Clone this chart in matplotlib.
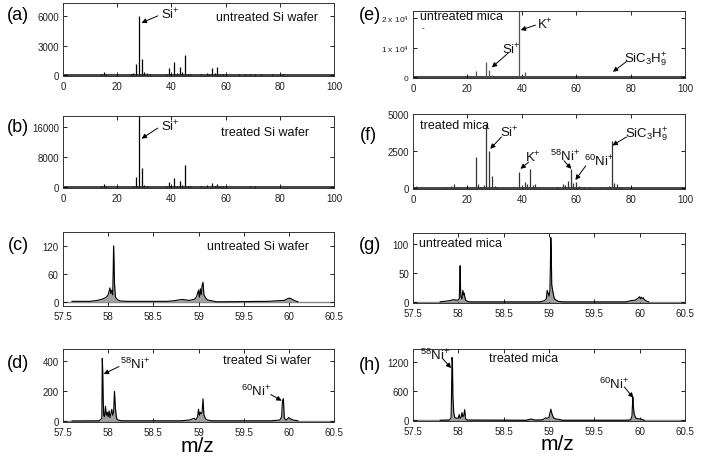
import numpy as np
import matplotlib
matplotlib.use("Agg")
import matplotlib.pyplot as plt

plt.rcParams['font.family'] = ['Liberation Sans', 'DejaVu Sans']
plt.rcParams['mathtext.fontset'] = 'custom'
plt.rcParams['mathtext.rm'] = 'Liberation Sans'
plt.rcParams['mathtext.it'] = 'Liberation Sans'

# ---- low resolution spectra (stick data), m/z 0-100 ----
a_mz = [1, 2, 12, 13, 14, 15, 16, 18, 24, 25, 26, 27, 28, 29, 30, 31, 32, 38, 39, 40,
        41, 42, 43, 44, 45, 46, 47, 50, 51, 52, 53, 54, 55, 56, 57, 58, 59, 63, 65, 67,
        69, 71, 73, 77, 79, 81, 91]
a_int = [100, 50, 60, 40, 120, 330, 80, 60, 40, 80, 220, 1100, 6000, 1600, 300, 220, 100, 120, 700, 150,
         1300, 250, 850, 300, 2000, 150, 80, 60, 150, 60, 250, 100, 700, 200, 800, 150, 100, 60, 80, 100,
         120, 150, 120, 80, 60, 80, 60]

b_mz = [1, 12, 14, 15, 16, 24, 25, 26, 27, 28, 29, 30, 31, 38, 39, 40, 41, 42, 43, 44,
        45, 46, 47, 51, 53, 55, 56, 57, 58, 59, 63, 67, 69, 71, 73, 77, 79, 81]
b_int = [200, 150, 200, 800, 200, 100, 150, 400, 2800, 19500, 5200, 700, 400, 200, 1300, 300, 2500, 400, 1600, 500,
         6000, 400, 200, 200, 600, 1100, 300, 900, 300, 200, 100, 150, 200, 200, 150, 100, 100, 100]

e_mz = [12, 14, 15, 16, 23, 24, 26, 27, 28, 29, 30, 39, 40, 41, 43, 45, 73, 74]
e_int = [100, 150, 200, 100, 2000, 150, 300, 5200, 2500, 700, 200, 23000, 300, 1800, 500, 150, 500, 100]

f_mz = [1, 12, 14, 15, 16, 23, 24, 25, 26, 27, 28, 29, 30, 31, 39, 40, 41, 42, 43, 44,
        45, 46, 53, 55, 56, 57, 58, 59, 60, 61, 63, 65, 69, 71, 72, 73, 74, 75, 76, 77]
f_int = [150, 80, 150, 250, 100, 2100, 250, 100, 200, 4300, 2500, 800, 150, 100, 1100, 120, 400, 250, 1300, 200,
         250, 100, 100, 250, 200, 500, 1300, 350, 420, 150, 80, 60, 60, 100, 150, 3200, 350, 280, 100, 60]

# ---- high resolution spectra, m/z 57.5-60.5 ----
c_mz = [57.60, 57.80, 57.88, 57.92, 57.95, 57.98, 58.00, 58.02, 58.03, 58.04,
        58.05, 58.055, 58.06, 58.065, 58.07, 58.08, 58.09, 58.10, 58.13, 58.20,
        58.65, 58.72, 58.78, 58.82, 58.90, 58.96, 58.98, 59.00, 59.01, 59.02,
        59.03, 59.04, 59.05, 59.06, 59.08, 59.10, 59.15, 59.20, 59.78, 59.85,
        59.95, 59.99, 60.01, 60.03, 60.06, 60.10]
c_int = [1, 1, 3, 5, 7, 10, 15, 30, 18, 25,
         15, 60, 120, 90, 40, 10, 8, 5, 2, 1,
         1, 2, 4, 5, 3, 6, 12, 25, 10, 28,
         15, 35, 42, 15, 8, 4, 2, 0, 1, 2,
         3, 7, 8, 6, 3, 0]

d_mz = [57.60, 57.90, 57.93, 57.935, 57.94, 57.945, 57.95, 57.96, 57.97, 57.98,
        57.99, 58.00, 58.01, 58.02, 58.03, 58.04, 58.05, 58.06, 58.07, 58.08,
        58.09, 58.10, 58.15, 58.80, 58.90, 58.95, 58.97, 58.99, 59.00, 59.01,
        59.02, 59.03, 59.04, 59.05, 59.06, 59.08, 59.10, 59.15, 59.80, 59.90,
        59.92, 59.93, 59.935, 59.94, 59.95, 59.97, 60.00, 60.02, 60.05, 60.10]
d_int = [2, 3, 20, 420, 330, 150, 40, 30, 100, 40,
         60, 30, 70, 25, 50, 80, 40, 60, 200, 90,
         30, 10, 3, 3, 8, 20, 10, 30, 80, 40,
         60, 50, 60, 150, 40, 15, 8, 3, 3, 8,
         30, 140, 130, 150, 20, 8, 25, 15, 8, 3]

g_mz = [57.80, 57.85, 57.90, 57.93, 57.95, 57.97, 57.99, 58.01, 58.015, 58.02,
        58.025, 58.03, 58.04, 58.05, 58.06, 58.065, 58.07, 58.08, 58.10, 58.12,
        58.90, 58.95, 58.97, 58.98, 58.99, 59.00, 59.01, 59.015, 59.02, 59.025,
        59.03, 59.04, 59.05, 59.06, 59.08, 59.10, 59.15, 59.85, 59.90, 59.95,
        59.98, 60.00, 60.01, 60.02, 60.03, 60.04, 60.05, 60.08, 60.10]
g_int = [0, 1, 2, 3, 4, 3, 3, 5, 30, 63,
         20, 8, 5, 20, 12, 15, 10, 3, 1, 0,
         0, 2, 5, 20, 15, 10, 20, 60, 112, 90,
         30, 20, 12, 5, 3, 1, 0, 0, 2, 3,
         6, 9, 5, 8, 6, 7, 4, 1, 0]

h_mz = [57.80, 57.90, 57.92, 57.925, 57.93, 57.935, 57.94, 57.95, 57.96, 57.98,
        58.00, 58.01, 58.02, 58.03, 58.04, 58.05, 58.06, 58.07, 58.08, 58.10,
        58.75, 58.80, 58.85, 58.93, 58.96, 58.98, 59.00, 59.02, 59.03, 59.05,
        59.08, 59.12, 59.15, 59.85, 59.90, 59.915, 59.92, 59.925, 59.93, 59.94,
        59.96, 59.98, 60.00, 60.02, 60.05]
h_int = [0, 5, 50, 550, 1300, 1250, 500, 150, 60, 40,
         50, 120, 40, 60, 160, 70, 100, 220, 30, 5,
         0, 25, 5, 10, 50, 40, 60, 230, 150, 50,
         25, 15, 0, 0, 10, 80, 300, 480, 300, 120,
         40, 30, 30, 20, 0]

hr_ticks = [57.5, 58, 58.5, 59, 59.5, 60, 60.5]
hr_labels = ['57.5', '58', '58.5', '59', '59.5', '60', '60.5']

W, H = 704, 464
fig = plt.figure(figsize=(7.04, 4.64), dpi=100)


def box(l, t, r, b):
    # pixel box -> figure fraction
    return [l / W, 1 - b / H, (r - l) / W, (b - t) / H]


def style(ax):
    ax.tick_params(direction='in', top=True, right=True, length=3, width=0.6,
                   labelsize=7, labelcolor='#222')
    ax.tick_params(axis='x', pad=3.5)
    ax.tick_params(axis='y', pad=3)
    for s in ax.spines.values():
        s.set_linewidth(0.7)
        s.set_color('#333')


def sticks(ax, mz, inten, ylim, yticks, color='k'):
    ax.axhline(0, color='#444', lw=1.4, zorder=1)
    ax.vlines(mz, 0, inten, color=color, lw=0.9, zorder=2)
    ax.set_xlim(0, 100)
    ax.set_ylim(*ylim)
    ax.set_xticks([0, 20, 40, 60, 80, 100])
    ax.set_yticks(yticks)
    style(ax)


def profile(ax, mz, inten, ylim, yticks):
    ax.axhline(0, color='#888', lw=1.0, zorder=1)
    ax.fill_between(mz, 0, inten, color='#a0a0a0', lw=0, zorder=2)
    ax.plot(mz, inten, color='k', lw=0.8, zorder=3)
    ax.set_xlim(57.5, 60.5)
    ax.set_ylim(*ylim)
    ax.set_xticks(hr_ticks)
    ax.set_xticklabels(hr_labels)
    ax.set_yticks(yticks)
    style(ax)


def arrow(ax, head, tail):
    ax.annotate('', xy=head, xytext=tail,
                arrowprops=dict(arrowstyle='-|>', color='k', lw=0.7,
                                mutation_scale=7, shrinkA=0, shrinkB=0))


def label(ax, x, y, s, ha='left', size=9.5):
    ax.text(x, y, s, ha=ha, va='center', fontsize=size, color='#111')


si = r'Si$^{+}$'
kp = r'K$^{+}$'
sich = r'SiC$_{3}$H$_{9}^{+}$'
ni58 = r'$^{58}$Ni$^{+}$'
ni60 = r'$^{60}$Ni$^{+}$'

# (a)
ax = fig.add_axes(box(63, 4, 334, 77))
sticks(ax, a_mz, a_int, (-80, 7300), [0, 3000, 6000])
label(ax, 36, 6200, si)
arrow(ax, (29, 5300), (35, 6000))
label(ax, 94, 5900, 'untreated Si wafer', ha='right', size=9)

# (b)
ax = fig.add_axes(box(63, 117, 334, 189))
sticks(ax, b_mz, b_int, (-200, 18900), [0, 8000, 16000])
label(ax, 36, 16400, si)
arrow(ax, (29, 12900), (35, 15700))
label(ax, 91, 14700, 'treated Si wafer', ha='right', size=9)

# (c)
ax = fig.add_axes(box(63, 233, 334, 307))
profile(ax, c_mz, c_int, (-9, 150), [0, 60, 120])
label(ax, 60.22, 120, 'untreated Si wafer', ha='right', size=9)

# (d)
ax = fig.add_axes(box(63, 350, 334, 423))
profile(ax, d_mz, d_int, (-5, 482), [0, 200, 400])
label(ax, 60.25, 410, 'treated Si wafer', ha='right', size=9)
label(ax, 58.13, 385, ni58)
arrow(ax, (57.95, 315), (58.12, 365))
label(ax, 59.47, 206, ni60)
arrow(ax, (59.92, 137), (59.8, 178))

# (e)
ax = fig.add_axes(box(413, 12, 685, 79))
sticks(ax, e_mz, e_int, (-300, 22500), [0, 10000, 20000], color='#555')
ax.set_yticklabels(['0', r'1 x 10$^{4}$', r'2 x 10$^{4}$'], fontsize=6)
label(ax, 2.7, 20700, 'untreated mica', size=9)
ax.text(3.5, 16800, '-', fontsize=6, ha='center', va='center')
label(ax, 45.6, 18300, kp)
arrow(ax, (39.6, 16000), (45, 17700))
label(ax, 39.6, 9700, si, ha='right')
arrow(ax, (29, 3300), (35, 8200))
label(ax, 77.5, 6200, sich)
arrow(ax, (73.5, 1800), (78.5, 5300))

# (f)
ax = fig.add_axes(box(413, 115, 685, 190))
sticks(ax, f_mz, f_int, (-60, 5000), [0, 2500, 5000], color='#333')
label(ax, 2.6, 4280, 'treated mica', size=9)
label(ax, 32, 3800, si)
arrow(ax, (28.4, 2650), (32.5, 3450))
label(ax, 41.2, 2100, kp)
arrow(ax, (39.5, 1300), (42.5, 1750))
label(ax, 50.5, 2200, ni58)
arrow(ax, (58.2, 1300), (55.5, 1850))
label(ax, 63, 1860, ni60)
arrow(ax, (59.7, 550), (63.5, 1500))
label(ax, 78, 3670, sich)
arrow(ax, (73.3, 2880), (78.5, 3450))

# (g)
ax = fig.add_axes(box(413, 234, 685, 304))
profile(ax, g_mz, g_int, (-2, 120), [0, 50, 100])
label(ax, 57.57, 102, 'untreated mica', size=9)

# (h)
ax = fig.add_axes(box(413, 350, 685, 422))
profile(ax, h_mz, h_int, (-15, 1475), [0, 600, 1200])
label(ax, 57.58, 1372, ni58)
arrow(ax, (57.92, 1080), (57.83, 1270))
label(ax, 58.34, 1284, 'treated mica', size=9)
label(ax, 59.55, 760, ni60)
arrow(ax, (59.93, 465), (59.83, 690))

# panel letters
for s, x, y in [('(a)', 18, 16), ('(b)', 18, 127), ('(c)', 18, 246), ('(d)', 18, 363),
                ('(e)', 370, 16), ('(f)', 368, 135), ('(g)', 370, 245), ('(h)', 370, 366)]:
    fig.text(x / W, 1 - y / H, s, fontsize=13, ha='center', va='center')

fig.text(197 / W, 1 - 447 / H, 'm/z', fontsize=15, ha='center', va='center')
fig.text(557 / W, 1 - 445 / H, 'm/z', fontsize=15, ha='center', va='center')

fig.savefig("out.png", dpi=100)
